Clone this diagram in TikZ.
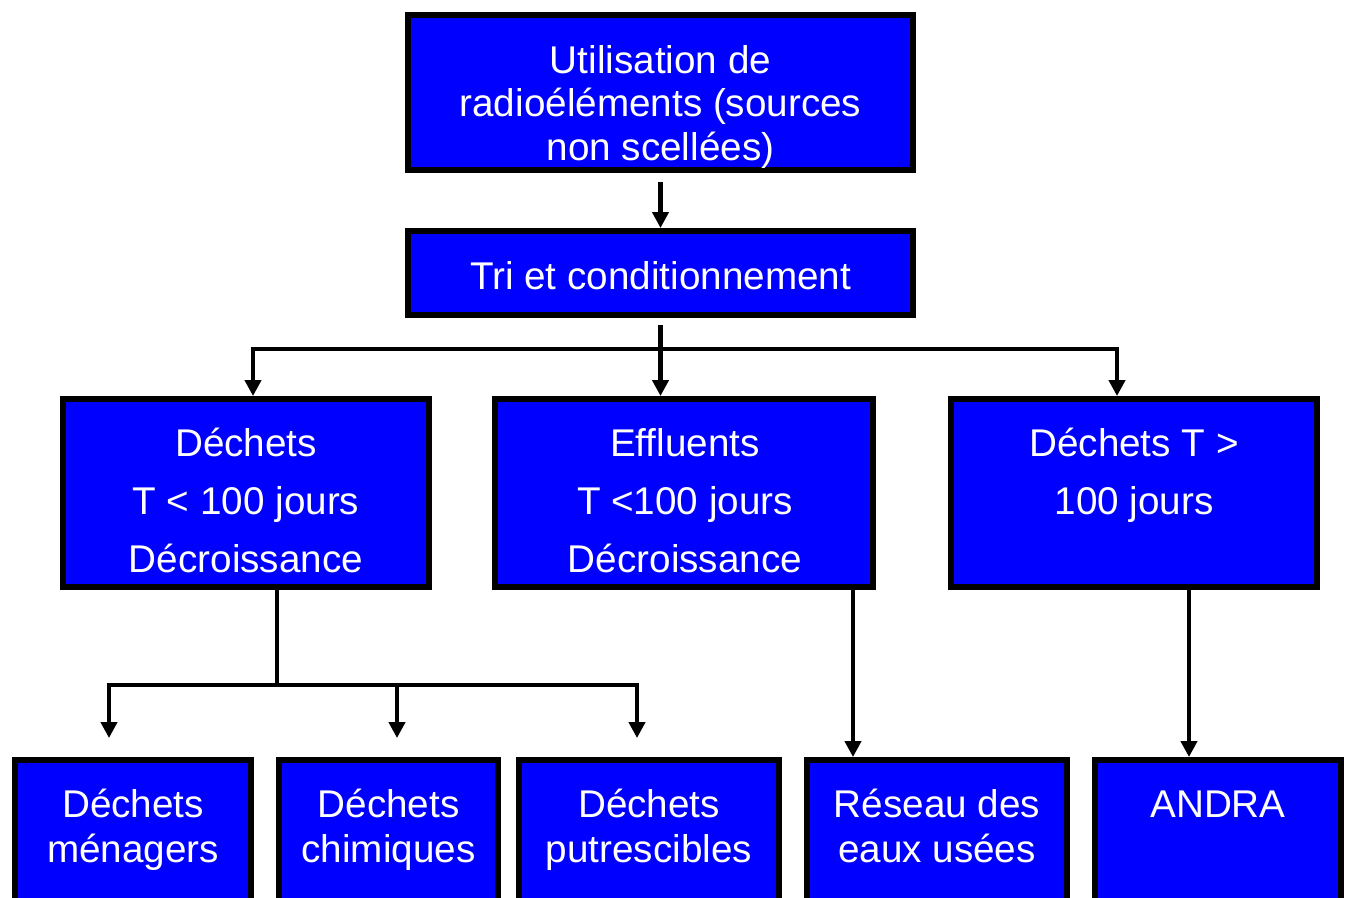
\documentclass[tikz,border=0pt]{standalone}
\usepackage{fontspec}
\setmainfont{Liberation Sans}
\usetikzlibrary{arrows.meta}
\definecolor{bleu}{RGB}{0,0,255}

\begin{document}
\begin{tikzpicture}[x=0.02cm, y=-0.02cm,
    boite/.style={draw=black, line width=3.4pt, fill=bleu, inner sep=0pt},
    texte/.style={text=white, font=\fontsize{22}{26}\selectfont, anchor=base, inner sep=0pt},
    trait/.style={line width=2.8pt},
    fleche/.style={line width=2.8pt, -{Triangle[width=9pt,length=9pt]}}]
    \useasboundingbox (0,0) rectangle (1352,897);
    \clip (0,0) rectangle (1352,897);

    % Level 0 and 1
    \node[boite, minimum width=10.1cm, minimum height=3.1cm] (haut) at (660.5,92.5) {};
    \node[boite, minimum width=10.1cm, minimum height=1.68cm] (tri) at (660.5,273) {};

    % Level 2
    \node[boite, minimum width=7.32cm, minimum height=3.76cm] (dech) at (246,493) {};
    \node[boite, minimum width=7.56cm, minimum height=3.76cm] (eff) at (684,493) {};
    \node[boite, minimum width=7.32cm, minimum height=3.76cm] (long) at (1134,493) {};

    % Level 3 (cut at the bottom)
    \foreach \n/\x/\w in {men/133/4.72, chim/388.5/4.38, putr/649/5.2, eaux/937/5.2, andra/1218/4.92} {
        \node[boite, minimum width=\w cm, minimum height=3.88cm] (\n) at (\x,857) {};
    }

    % Texts
    \foreach \t [count=\k] in {Utilisation de, radioéléments (sources, non scellées)} {
        \node[texte] (haut\k) at (660.5,{73+43.5*(\k-1)}) {\t};
    }
    \node[texte] (tri1) at (660.5,289) {Tri et conditionnement};
    \foreach \t [count=\k] in {Déchets, T < 100 jours, Décroissance} {
        \node[texte] (dech\k) at (246,{456+58*(\k-1)}) {\t};
    }
    \foreach \t [count=\k] in {Effluents, T <100 jours, Décroissance} {
        \node[texte] (eff\k) at (685,{456+58*(\k-1)}) {\t};
    }
    \foreach \t [count=\k] in {Déchets T >, 100 jours} {
        \node[texte] (long\k) at (1134,{456+58*(\k-1)}) {\t};
    }
    \foreach \n/\x/\a/\b in {men/133/Déchets/ménagers, chim/388.5/Déchets/chimiques,
                             putr/649/Déchets/putrescibles, eaux/937/Réseau des/eaux usées} {
        \node[texte] (\n1) at (\x,817) {\a};
        \node[texte] (\n2) at (\x,862) {\b};
    }
    \node[texte] (andra1) at (1218,817) {ANDRA};

    % Branch points
    \coordinate (d0) at (660.5,182);
    \coordinate (t0) at (660.5,325);
    \coordinate (bus) at (660.5,349);
    \coordinate (bg) at (253,349);
    \coordinate (bd) at (1117,349);
    \coordinate (c0) at (277,590);
    \coordinate (c1) at (277,685);
    \coordinate (cg) at (109,685);
    \coordinate (cm) at (397,685);
    \coordinate (cd) at (637,685);
    \coordinate (e0) at (853,590);
    \coordinate (l0) at (1189,590);

    % Connectors
    \draw[fleche] (d0) -- (tri.north);
    \draw[fleche] (t0) -- (t0 |- eff.north);
    \draw[fleche] (bus) -- (bg) -- (bg |- dech.north);
    \draw[fleche] (bus) -- (bd) -- (bd |- long.north);
    \draw[trait] (c0) -- (c1);
    \draw[fleche, shorten >=0.38cm] (c1) -- (cg) -- (cg |- men.north);
    \draw[fleche, shorten >=0.38cm] (cm) -- (cm |- chim.north);
    \draw[fleche, shorten >=0.38cm] (c1) -- (cd) -- (cd |- putr.north);
    \draw[fleche] (e0) -- (e0 |- eaux.north);
    \draw[fleche] (l0) -- (l0 |- andra.north);
\end{tikzpicture}
\end{document}
